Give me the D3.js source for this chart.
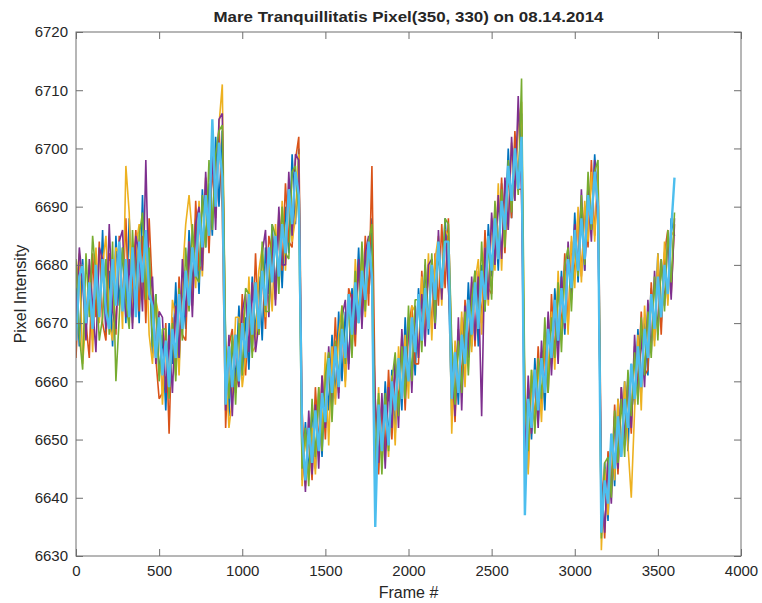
<!DOCTYPE html>
<html>
<head>
<meta charset="utf-8">
<script src="https://cdn.jsdelivr.net/npm/d3@7"></script>
<style>
  html, body { margin: 0; padding: 0; background: #fff; }
  svg { display: block; }
  text { font-family: "Liberation Sans", Arial, Helvetica, sans-serif; fill: #262626; }
</style>
</head>
<body>
<svg id="chart" width="762" height="603"></svg>
<script>
// ---------------- DATA ----------------
const titleText = "Mare Tranquillitatis Pixel(350, 330) on 08.14.2014";
const xLabel = "Frame #";
const yLabel = "Pixel Intensity";
const xTicks = [0, 500, 1000, 1500, 2000, 2500, 3000, 3500, 4000];
const yTicks = [6630, 6640, 6650, 6660, 6670, 6680, 6690, 6700, 6710, 6720];
// frame numbers sampled every 20 frames (0 .. 3600)
const frames = d3.range(0, 3601, 20);

const seriesBlue = [
 6678,6666,6681,6669,6677,6667,6681,6671,6686,6668,6679,6666,6685,6673,6683,6670,6688,6673,6682,6670,6692,6673,6682,
 6664,6675,6661,6668,6655,6670,6663,6677,6663,6677,6669,6686,6676,6688,6675,6693,6683,6694,6685,6702,6690,6703,
 6666,6654,6667,6660,6673,6661,6671,6662,6678,6668,6678,6667,6683,6675,6687,6675,6688,6676,6690,6682,6699,6687,6700,
 6643,6653,6644,6656,6645,6658,6647,6663,6655,6668,6657,6672,6660,6672,6663,6676,6670,6683,6670,6683,6675,6688,
 6642,6657,6647,6660,6650,6662,6651,6664,6655,6671,6660,6671,6661,6676,6668,6680,6668,6681,6669,6683,6675,6688,6678,
 6654,6666,6656,6671,6663,6677,6666,6679,6666,6680,6672,6687,6678,6689,6679,6694,6685,6700,6688,6701,6694,6706,
 6645,6659,6650,6664,6653,6665,6655,6671,6663,6676,6666,6679,6668,6682,6675,6689,6677,6690,6679,6694,6686,6699,6689,
 6634,6646,6636,6651,6642,6657,6647,6660,6648,6663,6656,6669,6658,6671,6661,6676,6667,6682,6670,6681,6674,6688,6685
];
const seriesOrange = [
 6664,6678,6679,6670,6664,6682,6671,6684,6670,6667,6682,6679,6668,6685,6673,6688,6671,6677,6686,6672,6685,6670,6688,
 6675,6664,6657,6658,6670,6651,6671,6661,6678,6668,6667,6684,6673,6691,6679,6680,6695,6682,6697,6688,6704,6689,
 6652,6666,6669,6658,6662,6675,6661,6674,6666,6682,6668,6679,6669,6685,6682,6674,6689,6679,6694,6684,6683,6698,6702,
 6655,6642,6651,6643,6659,6649,6661,6650,6664,6658,6671,6658,6670,6660,6676,6674,6666,6680,6671,6685,6673,6697,
 6656,6644,6656,6648,6662,6650,6663,6656,6668,6655,6669,6673,6663,6663,6679,6669,6680,6669,6682,6673,6687,6676,6688,
 6664,6653,6669,6660,6674,6666,6677,6666,6679,6670,6686,6676,6675,6690,6681,6695,6682,6696,6688,6703,6693,6693,
 6657,6645,6661,6653,6666,6655,6666,6658,6675,6664,6677,6669,6682,6669,6684,6678,6689,6678,6690,6683,6698,6685,6696,
 6644,6633,6648,6642,6656,6644,6659,6649,6660,6651,6666,6659,6672,6661,6662,6677,6668,6680,6668,6682,6686,6675,6687
];
const seriesYellow = [
 6676,6682,6663,6671,6680,6665,6683,6670,6680,6685,6670,6667,6683,6682,6669,6697,6689,6670,6683,6687,6674,6684,6668,
 6663,6674,6671,6656,6667,6658,6674,6671,6661,6678,6687,6692,6685,6676,6691,6678,6692,6685,6698,6690,6704,6711,
 6664,6652,6657,6671,6671,6659,6664,6678,6665,6666,6679,6683,6671,6682,6672,6687,6678,6691,6679,6693,6684,6688,6699,
 6642,6651,6643,6652,6644,6659,6651,6665,6649,6666,6656,6668,6673,6659,6675,6665,6681,6671,6682,6671,6684,6676,
 6638,6659,6646,6657,6647,6661,6649,6666,6657,6668,6657,6673,6672,6664,6678,6668,6682,6667,6681,6685,6673,6686,6685,
 6651,6667,6659,6672,6659,6674,6665,6677,6681,6668,6683,6673,6688,6679,6694,6679,6694,6686,6701,6691,6704,6708,
 6655,6644,6662,6652,6663,6653,6669,6661,6672,6662,6679,6667,6679,6668,6685,6676,6690,6677,6691,6684,6696,6684,6697,
 6631,6645,6637,6650,6643,6657,6648,6660,6649,6640,6655,6668,6655,6673,6664,6675,6666,6682,6671,6684,6673,6685,6686
];
const seriesPurple = [
 6669,6683,6677,6667,6681,6673,6665,6683,6681,6669,6687,6672,6669,6684,6686,6671,6681,6669,6685,6682,6672,6698,6674,
 6678,6663,6672,6671,6658,6668,6658,6673,6664,6681,6671,6684,6671,6687,6690,6679,6696,6685,6699,6686,6705,6706,
 6655,6668,6654,6668,6659,6672,6675,6665,6677,6665,6670,6682,6686,6671,6685,6673,6690,6680,6680,6696,6685,6699,6698,
 6652,6641,6655,6644,6656,6645,6661,6652,6666,6655,6666,6657,6671,6674,6662,6675,6668,6681,6669,6682,6685,6676,
 6657,6646,6658,6645,6659,6652,6664,6652,6669,6658,6671,6658,6673,6664,6675,6666,6680,6681,6669,6686,6674,6686,6676,
 6665,6654,6671,6655,6673,6664,6678,6667,6678,6654,6683,6674,6689,6680,6692,6681,6695,6686,6702,6691,6709,6692,
 6646,6661,6651,6662,6652,6667,6658,6672,6661,6673,6663,6678,6669,6684,6674,6687,6679,6693,6679,6693,6684,6698,6687,
 6643,6634,6647,6639,6654,6645,6659,6650,6661,6652,6668,6657,6668,6659,6674,6665,6679,6668,6681,6673,6685,6674,6688
];
const seriesGreen = [
 6681,6668,6662,6682,6671,6685,6678,6667,6671,6681,6668,6684,6660,6671,6683,6674,6669,6686,6673,6685,6689,6674,6683,
 6666,6675,6660,6669,6669,6657,6670,6660,6676,6667,6683,6672,6687,6678,6677,6692,6683,6698,6686,6699,6703,6704,
 6667,6657,6668,6656,6670,6661,6676,6675,6664,6677,6668,6684,6672,6672,6687,6685,6675,6690,6682,6681,6696,6697,6688,
 6645,6652,6642,6657,6647,6659,6648,6661,6665,6653,6667,6660,6673,6663,6674,6664,6679,6670,6684,6672,6684,6687,
 6645,6658,6644,6658,6648,6660,6665,6654,6666,6657,6673,6660,6674,6674,6665,6681,6669,6682,6670,6684,6676,6688,6687,
 6667,6656,6667,6658,6672,6661,6674,6679,6669,6684,6672,6684,6674,6691,6682,6693,6683,6698,6689,6700,6692,6712,
 6658,6648,6662,6651,6664,6657,6671,6658,6671,6664,6677,6665,6680,6683,6672,6685,6678,6692,6680,6696,6686,6696,6698,
 6633,6646,6647,6640,6655,6646,6657,6647,6662,6654,6665,6656,6671,6661,6672,6664,6678,6667,6681,6672,6686,6677,6689
];
const seriesCyan = [
 6667,6678,6680,6670,6677,6669,6680,6671,6681,6672,6669,6681,6673,6684,6672,6681,6671,6683,6671,6684,6677,6686,6675,
 6673,6664,6671,6661,6667,6659,6669,6664,6675,6669,6679,6673,6683,6678,6689,6683,6692,6685,6705,6690,6701,6695,
 6656,6666,6659,6668,6660,6670,6664,6675,6668,6677,6669,6679,6673,6683,6677,6685,6678,6687,6682,6693,6687,6696,6692,
 6651,6643,6652,6646,6655,6648,6658,6653,6664,6658,6666,6659,6669,6664,6675,6668,6677,6670,6679,6674,6684,6678,
 6635,6656,6648,6656,6649,6660,6655,6664,6657,6666,6660,6671,6665,6675,6667,6676,6669,6680,6674,6684,6676,6684,6684,
 6657,6665,6658,6668,6663,6674,6668,6677,6669,6679,6674,6685,6679,6688,6681,6691,6686,6697,6691,6700,6693,6702,
 6637,6657,6652,6662,6655,6664,6658,6669,6664,6674,6667,6676,6670,6681,6676,6686,6679,6688,6681,6692,6687,6696,6690,
 6634,6643,6639,6651,6645,6654,6647,6657,6652,6663,6657,6666,6659,6669,6664,6675,6669,6678,6671,6680,6675,6686,6695
];

const seriesList = [seriesBlue, seriesOrange, seriesYellow, seriesPurple, seriesGreen, seriesCyan];
const seriesColors = ["#0072BD", "#D95319", "#EDB120", "#7E2F8E", "#77AC30", "#4DBEEE"];

// ---------------- LAYOUT ----------------
const svg = d3.select("#chart");
const plotLeft = 76, plotRight = 741, plotTop = 32, plotBottom = 556;

const x = d3.scaleLinear().domain([0, 4000]).range([plotLeft, plotRight]);
const y = d3.scaleLinear().domain([6630, 6720]).range([plotBottom, plotTop]);

svg.append("rect").attr("width", 762).attr("height", 603).attr("fill", "#fff");

svg.append("defs").append("clipPath").attr("id", "plotclip")
  .append("rect").attr("x", plotLeft).attr("y", plotTop)
  .attr("width", plotRight - plotLeft).attr("height", plotBottom - plotTop);

const line = d3.line()
  .x((d, i) => x(frames[i]))
  .y(d => y(d));

const plot = svg.append("g").attr("clip-path", "url(#plotclip)");
seriesList.forEach((s, k) => {
  plot.append("path")
    .datum(s)
    .attr("fill", "none")
    .attr("stroke", seriesColors[k])
    .attr("stroke-width", k === 5 ? 2.4 : 1.6)
    .attr("stroke-linejoin", "bevel")
    .attr("d", line);
});

// ---------------- AXES ----------------
const axisColor = "#6e6e6e";
const tickLen = 7;
const fmt = d3.format("d");
function styleAxis(g) {
  g.select(".domain").remove();
  g.selectAll(".tick line").attr("stroke", axisColor).attr("stroke-width", 1);
  g.selectAll(".tick text").attr("font-size", "15px").attr("fill", "#262626")
    .attr("font-family", "'Liberation Sans', Arial, sans-serif");
}

svg.append("g").attr("transform", `translate(0,${plotBottom})`)
  .call(d3.axisBottom(x).tickValues(xTicks).tickFormat(fmt).tickSizeInner(-tickLen).tickSizeOuter(0).tickPadding(9))
  .call(styleAxis);
svg.append("g").attr("transform", `translate(0,${plotTop})`)
  .call(d3.axisTop(x).tickValues(xTicks).tickSizeInner(-tickLen).tickSizeOuter(0).tickFormat(""))
  .call(styleAxis);
svg.append("g").attr("transform", `translate(${plotLeft},0)`)
  .call(d3.axisLeft(y).tickValues(yTicks).tickFormat(fmt).tickSizeInner(-tickLen).tickSizeOuter(0).tickPadding(8))
  .call(styleAxis);
svg.append("g").attr("transform", `translate(${plotRight},0)`)
  .call(d3.axisRight(y).tickValues(yTicks).tickSizeInner(-tickLen).tickSizeOuter(0).tickFormat(""))
  .call(styleAxis);

// box
svg.append("rect")
  .attr("x", plotLeft).attr("y", plotTop)
  .attr("width", plotRight - plotLeft).attr("height", plotBottom - plotTop)
  .attr("fill", "none").attr("stroke", axisColor).attr("stroke-width", 1);

// ---------------- LABELS ----------------
svg.append("text")
  .attr("x", (plotLeft + plotRight) / 2).attr("y", 22)
  .attr("text-anchor", "middle")
  .attr("font-size", "15px").attr("font-weight", "bold")
  .attr("fill", "#000")
  .attr("textLength", 390).attr("lengthAdjust", "spacingAndGlyphs")
  .text(titleText);

svg.append("text")
  .attr("x", (plotLeft + plotRight) / 2).attr("y", 598)
  .attr("text-anchor", "middle")
  .attr("font-size", "16px")
  .text(xLabel);

svg.append("text")
  .attr("transform", `translate(26,${(plotTop + plotBottom) / 2}) rotate(-90)`)
  .attr("text-anchor", "middle")
  .attr("font-size", "16px")
  .text(yLabel);
</script>
</body>
</html>
